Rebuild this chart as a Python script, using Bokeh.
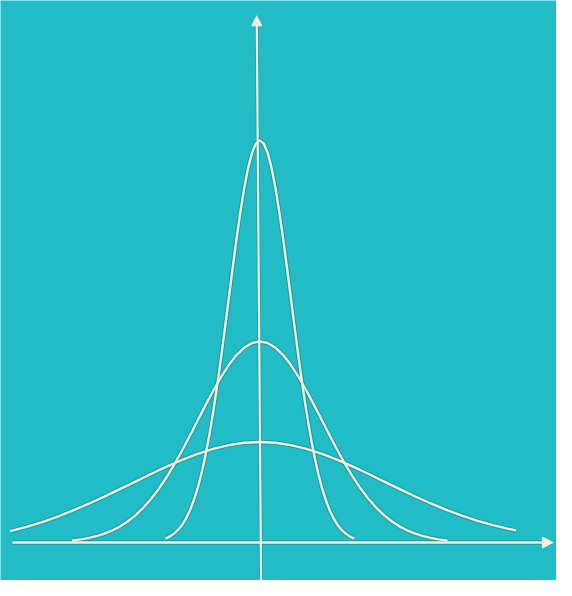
from bokeh.plotting import figure
from bokeh.models import Range1d, Arrow, NormalHead
from bokeh.embed import file_html
from bokeh.resources import INLINE

# ---- data (x in units of the medium curve's sigma, y = density) ----
x_tall = [-1.5, -1.4375, -1.375, -1.3125, -1.25, -1.1875, -1.125, -1.0625, -1.0, -0.9375, -0.875, -0.8125,
          -0.75, -0.6875, -0.625, -0.5625, -0.5, -0.4375, -0.375, -0.3125, -0.25, -0.1875, -0.125, -0.0625,
          0.0,
          0.0625, 0.125, 0.1875, 0.25, 0.3125, 0.375, 0.4375, 0.5, 0.5625, 0.625, 0.6875, 0.75,
          0.8125, 0.875, 0.9375, 1.0, 1.0625, 1.125, 1.1875, 1.25, 1.3125, 1.375, 1.4375, 1.5]
y_tall = [0.0089, 0.0128, 0.0182, 0.0255, 0.0350, 0.0475, 0.0635, 0.0835, 0.1080, 0.1376, 0.1726, 0.2131,
          0.2591, 0.3100, 0.3653, 0.4238, 0.4839, 0.5441, 0.6022, 0.6563, 0.7041, 0.7437, 0.7733, 0.7917,
          0.7979,
          0.7917, 0.7733, 0.7437, 0.7041, 0.6563, 0.6022, 0.5441, 0.4839, 0.4238, 0.3653, 0.3100, 0.2591,
          0.2131, 0.1726, 0.1376, 0.1080, 0.0835, 0.0635, 0.0475, 0.0350, 0.0255, 0.0182, 0.0128, 0.0089]

x_mid = [-3.0, -2.875, -2.75, -2.625, -2.5, -2.375, -2.25, -2.125, -2.0, -1.875, -1.75, -1.625,
         -1.5, -1.375, -1.25, -1.125, -1.0, -0.875, -0.75, -0.625, -0.5, -0.375, -0.25, -0.125,
         0.0,
         0.125, 0.25, 0.375, 0.5, 0.625, 0.75, 0.875, 1.0, 1.125, 1.25, 1.375, 1.5,
         1.625, 1.75, 1.875, 2.0, 2.125, 2.25, 2.375, 2.5, 2.625, 2.75, 2.875, 3.0]
y_mid = [0.0044, 0.0064, 0.0091, 0.0127, 0.0175, 0.0238, 0.0317, 0.0417, 0.0540, 0.0688, 0.0863, 0.1065,
         0.1295, 0.1550, 0.1826, 0.2119, 0.2420, 0.2721, 0.3011, 0.3282, 0.3521, 0.3719, 0.3867, 0.3958,
         0.3989,
         0.3958, 0.3867, 0.3719, 0.3521, 0.3282, 0.3011, 0.2721, 0.2420, 0.2119, 0.1826, 0.1550, 0.1295,
         0.1065, 0.0863, 0.0688, 0.0540, 0.0417, 0.0317, 0.0238, 0.0175, 0.0127, 0.0091, 0.0064, 0.0044]

x_wide = [-4.0, -3.75, -3.5, -3.25, -3.0, -2.75, -2.5, -2.25, -2.0, -1.75, -1.5, -1.25, -1.0, -0.75, -0.5, -0.25, 0.0,
          0.25, 0.5, 0.75, 1.0, 1.25, 1.5, 1.75, 2.0, 2.25, 2.5, 2.75, 3.0, 3.25, 3.5, 3.75, 4.0, 4.1]
y_wide = [0.0230, 0.0310, 0.0405, 0.0515, 0.0640, 0.0770, 0.0910, 0.1059, 0.1210, 0.1360, 0.1506, 0.1641, 0.1760,
          0.1859, 0.1933, 0.1979, 0.1995,
          0.1979, 0.1933, 0.1859, 0.1760, 0.1641, 0.1506, 0.1360, 0.1210, 0.1059, 0.0913, 0.0775, 0.0648,
          0.0533, 0.0431, 0.0344, 0.0270, 0.0245]

x_axis_span = [-3.98, 4.72]
y_axis_span = [-0.0753, 1.045]

BG = "#22bcc7"
INK = "#f3f0dc"
SHADOW = "#0f6f78"

p = figure(width=556, height=580, x_range=Range1d(-4.17, 4.77), y_range=Range1d(-0.0753, 1.0753),
           x_axis_type=None, y_axis_type=None, toolbar_location=None, output_backend="svg",
           min_border=0, background_fill_color=BG, border_fill_color=BG, outline_line_color=None)
p.grid.visible = False

# soft dark edges (printed look)
for xs, ys in [(x_wide, y_wide), (x_mid, y_mid), (x_tall, y_tall)]:
    p.line(xs, ys, line_color=SHADOW, line_width=4.5, line_alpha=0.4, line_join="round")
p.line(x_axis_span, [0, 0], line_color=SHADOW, line_width=4.5, line_alpha=0.4)
p.line([0.02, -0.05], y_axis_span, line_color=SHADOW, line_width=4, line_alpha=0.3)

# axes with arrows
p.add_layout(Arrow(end=NormalHead(size=11, fill_color=INK, line_color=INK),
                   x_start=x_axis_span[0], y_start=0, x_end=x_axis_span[1], y_end=0,
                   line_color=INK, line_width=2.6))
p.add_layout(Arrow(end=NormalHead(size=10, fill_color=INK, line_color=INK),
                   x_start=0.02, y_start=y_axis_span[0], x_end=-0.05, y_end=y_axis_span[1],
                   line_color=INK, line_width=2.2))

# curves
for xs, ys in [(x_wide, y_wide), (x_mid, y_mid), (x_tall, y_tall)]:
    p.line(xs, ys, line_color=INK, line_width=2.4, line_join="round", line_cap="round")

open("out.html", "w").write(file_html(p, INLINE))
